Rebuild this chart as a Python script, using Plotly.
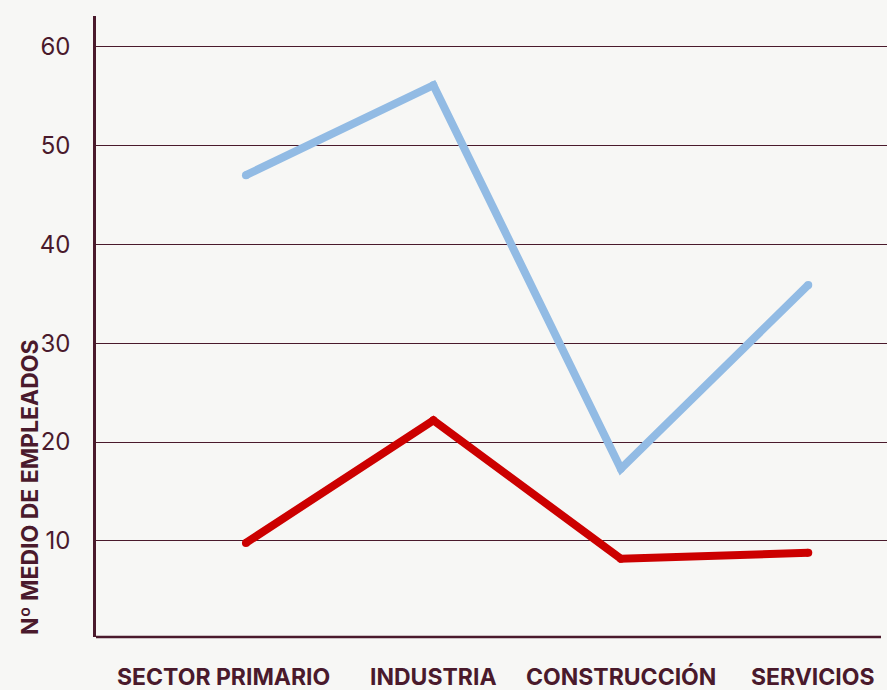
import plotly.graph_objects as go

categories = ["SECTOR PRIMARIO", "INDUSTRIA", "CONSTRUCCIÓN", "SERVICIOS"]
serie_azul = [47.0, 56.1, 17.3, 35.9]
serie_roja = [9.8, 22.2, 8.2, 8.8]
y_ticks = [10, 20, 30, 40, 50, 60]
y_title = "Nº MEDIO DE EMPLEADOS"

MAROON = "#4A1A2C"
BG = "#F7F7F5"
FONT = "Inter, Roboto, sans-serif"

xs = list(range(len(categories)))

fig = go.Figure()
for vals, col in ((serie_azul, "#92BBE4"), (serie_roja, "#CC0000")):
    fig.add_trace(go.Scatter(x=xs, y=vals, mode="lines+markers",
                             line=dict(color=col, width=8),
                             marker=dict(color=col, size=8, line=dict(width=0)),
                             hoverinfo="skip"))

fig.update_layout(
    width=887, height=690,
    margin=dict(l=96, r=0, t=16, b=53),
    paper_bgcolor=BG, plot_bgcolor=BG,
    showlegend=False,
    font=dict(family=FONT, color=MAROON),
    xaxis=dict(range=[-0.80, 3.42], showgrid=False, zeroline=False,
               showticklabels=False, showline=False, fixedrange=True),
    yaxis=dict(range=[0.28, 63.1], tickvals=y_ticks, showgrid=True,
               gridcolor=MAROON, gridwidth=1, zeroline=False,
               showline=True, linecolor=MAROON, linewidth=2.5,
               tickfont=dict(size=24, color=MAROON, family=FONT),
               ticks="", ticklabelstandoff=18, fixedrange=True),
)

# x-axis baseline
fig.add_shape(type="line", xref="paper", yref="paper", x0=0, x1=0.9924, y0=0, y1=0,
              line=dict(color=MAROON, width=2.5))

# category labels
shifts = [-22, 0, 0, 5]
for i, c in enumerate(categories):
    fig.add_annotation(x=xs[i], y=0, xref="x", yref="paper", text=c, showarrow=False,
                       xanchor="center", yanchor="middle", yshift=-40, xshift=shifts[i],
                       font=dict(size=23, color=MAROON, family=FONT, weight="bold"))

# y title
fig.add_annotation(x=0, y=0, xref="paper", yref="paper", text=y_title, showarrow=False,
                   textangle=-90, xanchor="center", yanchor="bottom", xshift=-66,
                   font=dict(size=23, color=MAROON, family=FONT, weight="bold"))

fig.write_html("out.html", config={"displayModeBar": False},
               post_script="document.body.style.margin='0';document.body.style.overflow='hidden';")
